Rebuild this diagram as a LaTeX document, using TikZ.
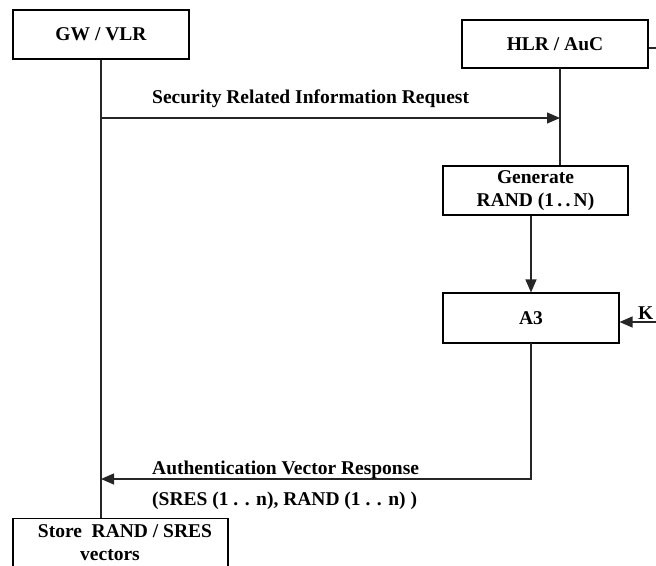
\documentclass[tikz,border=0pt]{standalone}
\usepackage{fontspec}
\setmainfont{Liberation Serif}
\usetikzlibrary{arrows.meta}

\tikzset{
  every node/.style={font=\fontsize{19.5}{23.5}\selectfont\bfseries, text=black},
  entity/.style={draw=black, line width=1.1pt, rectangle, inner sep=0pt, align=center},
  wire/.style={draw=black!85, line width=1.2pt},
  msg/.style={wire, -{Triangle[length=13pt,width=11pt]}},
  msglabel/.style={anchor=base west, inner sep=0pt},
}

\begin{document}
\begin{tikzpicture}[x=1pt, y=-1pt]
  \useasboundingbox (0,0) rectangle (656,565);
  \clip (0,0) rectangle (656,565);

  % entities
  \node[entity, minimum width=176pt, minimum height=49pt] (gw)  at (101,34.5)  {GW / VLR};
  \node[entity, minimum width=186pt, minimum height=48pt] (hlr) at (555,44)    {HLR / AuC};
  \node[entity, minimum width=185pt, minimum height=49pt] (gen) at (535.5,190.5) {Generate\\RAND (1\,.\,.\,N)};
  \node[entity, minimum width=176pt, minimum height=50pt] (a3)  at (531,318)   {A3};
  \node[entity, minimum width=215pt, minimum height=80pt, anchor=north] (store) at (120.5,518) {};
  \node[inner sep=0pt, anchor=base] (storetxt1) at (125,537) {Store\ \ RAND / SRES};
  \node[inner sep=0pt, anchor=base] (storetxt2) at (110,560) {vectors};

  % lifelines and helper points
  \coordinate (hlrlife) at (560,68);
  \coordinate (hlrout)  at (656,48);
  \coordinate (kin)     at (656,322);
  \coordinate (a3out)   at (531,343);
  \coordinate (turn)    at (531,479);

  \draw[wire] (gw.south) -- (gw.south |- store.north);
  \draw[wire] (hlrlife) -- (hlrlife |- gen.north);
  \draw[wire] (hlr.east |- hlrout) -- (hlrout);

  % request message
  \draw[msg] (101,118) -- (560,118);
  \node[msglabel] (reqlabel) at (152,103) {Security Related Information Request};

  % generation chain
  \draw[msg] (gen.south -| a3.north) -- (a3.north);
  \draw[msg] (kin) -- (a3.east |- kin);
  \node[inner sep=0pt, anchor=base west] (klabel) at (638,319) {K};

  % response message
  \draw[msg] (a3out) -- (turn) -- (gw.south |- turn);
  \node[msglabel] (resplabel)  at (152,474) {Authentication Vector Response};
  \node[msglabel] (resplabel2) at (152,505) {(SRES (1 . . n), RAND (1 . . n) )};
\end{tikzpicture}
\end{document}
